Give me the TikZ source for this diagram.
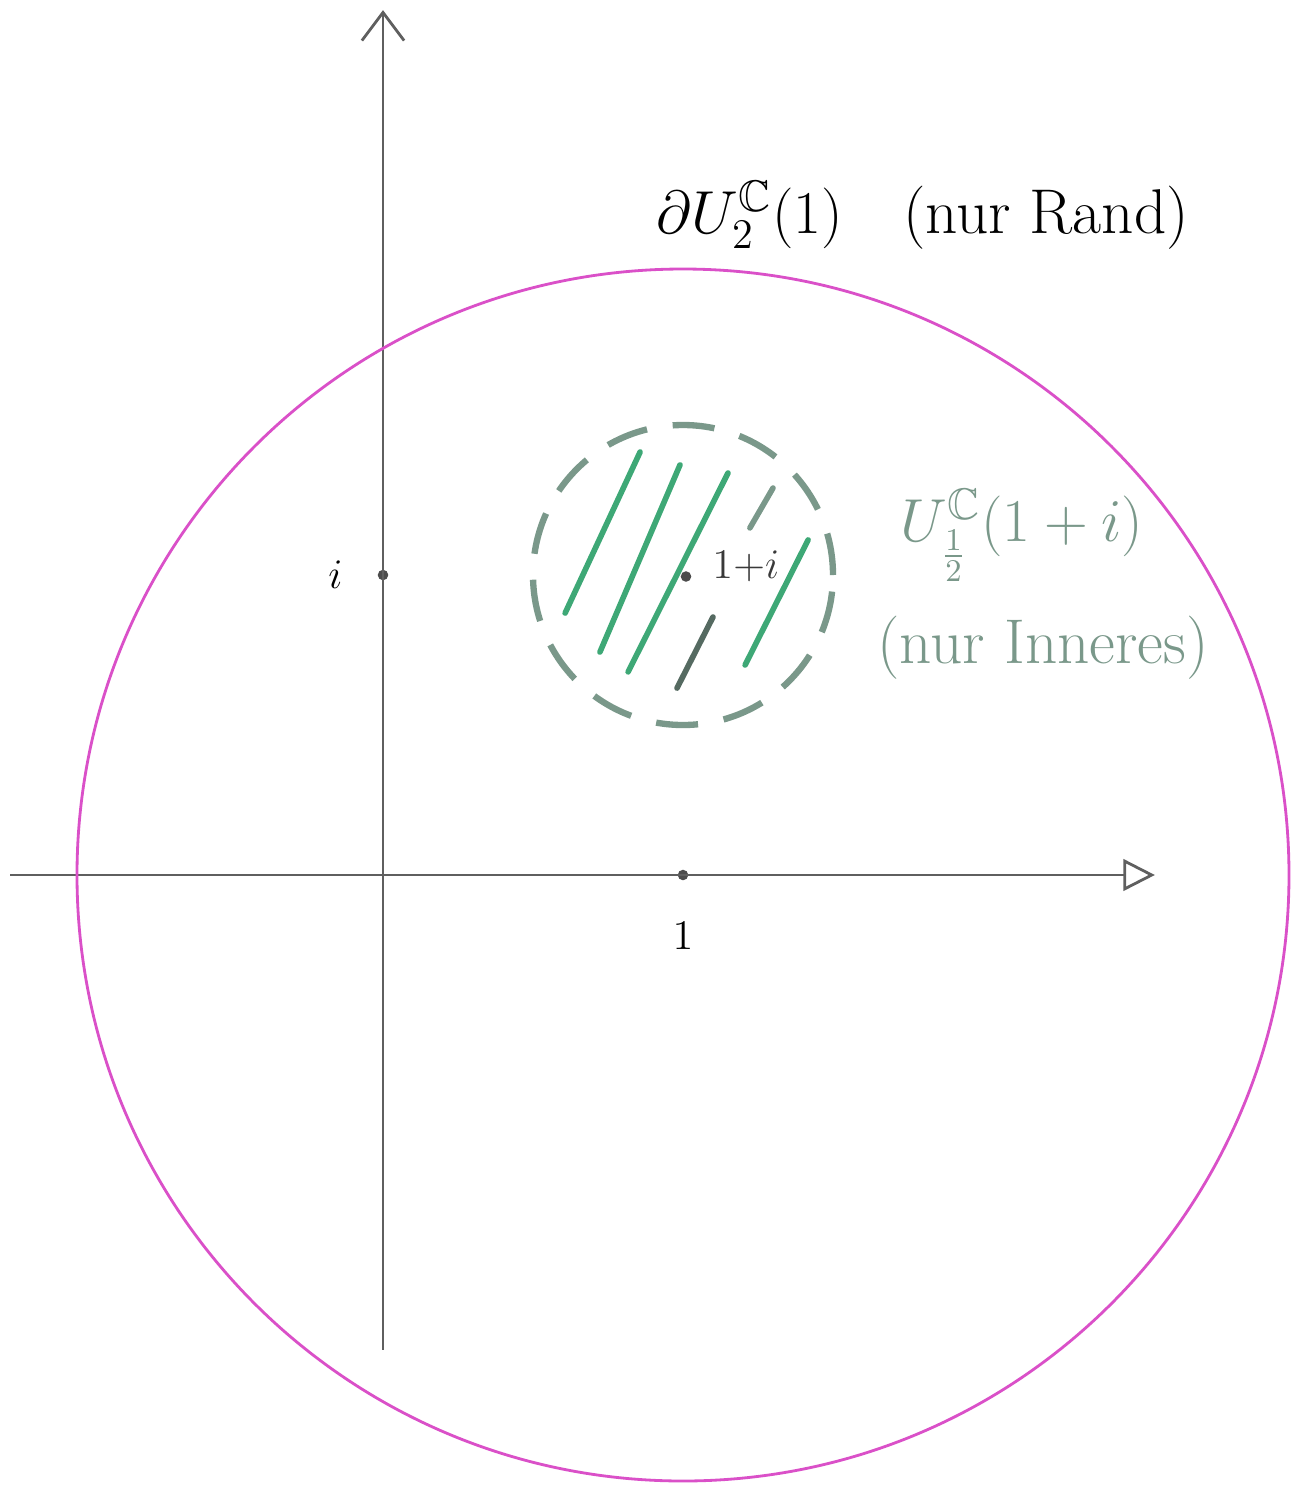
\documentclass[tikz,border=0pt]{standalone}
\usepackage{amsmath, amssymb}
\usetikzlibrary{arrows.meta}

\definecolor{randmag}{RGB}{218,80,200}
\definecolor{innengrau}{RGB}{122,152,138}
\definecolor{schraffur}{RGB}{62,168,118}
\definecolor{achse}{RGB}{95,95,95}

\tikzset{
  axis/.style={draw=achse, line width=0.8pt},
  punkt/.style={circle, fill=achse!80!black, inner sep=0pt, minimum size=3pt},
  rand/.style={draw=randmag, line width=0.8pt},
  innen/.style={draw=innengrau, line width=1.8pt, dash pattern=on 0.42cm off 0.26cm},
  hatchline/.style={draw=schraffur, line width=1.6pt, line cap=round},
  grosstext/.style={font=\fontsize{18}{22}\selectfont},
}

\begin{document}
\begin{tikzpicture}[x=3cm, y=3cm]
        \useasboundingbox (-1.2767,-2.0433) rectangle (3.08,2.9167);

        % Draw nodes
        \coordinate (O) at (0,0);
        \coordinate (xend) at (2.573,0);
        \coordinate (xstart) at (-1.243,0);
        \coordinate (yend) at (0,2.883);
        \coordinate (ystart) at (0,-1.583);
        \node[punkt] (eins) at (1,0) {};
        \node[punkt] (ii) at (0,1) {};
        \node[punkt] (einsi) at (1.01,0.995) {};

        % Draw connections
        \draw[axis, -{Triangle[open, length=9pt, width=9pt]}] (xstart) -- (xend);
        \draw[axis, -{Straight Barb[length=8pt, width=12pt]}] (ystart) -- (yend);

        % Circles
        \draw[rand] (eins) circle[radius=2.02];
        \draw[innen] (1,1) circle[radius=0.5];

        % Hatching
        \draw[hatchline] (0.607,0.873) -- (0.857,1.41);
        \draw[hatchline] (0.723,0.743) -- (0.99,1.367);
        \draw[hatchline] (0.817,0.677) -- (1.15,1.34);
        \draw[hatchline, draw=innengrau!70!black] (0.98,0.623) -- (1.1,0.86);
        \draw[hatchline] (1.207,0.7) -- (1.417,1.117);
        \draw[hatchline, draw=innengrau] (1.223,1.157) -- (1.3,1.29);

        % Labels
        \node[font=\large, left=8pt] (ilabel) at (ii) {$i$};
        \node[font=\large, below=10pt] (einslabel) at (eins) {$1$};
        \node[font=\large, right=4pt, yshift=3pt, text=achse!60!black] (einsilabel) at (einsi) {$1{+}i$};
        \node[grosstext, text=black] (randlabel) at (1.80,2.2)
            {$\partial U_2^{\mathbb{C}}(1)$\hspace{0.6cm}(nur Rand)};
        \node[grosstext, text=innengrau] (innenlabel) at (2.13,1.133)
            {$U_{\frac12}^{\mathbb{C}}(1+i)$};
        \node[grosstext, text=innengrau] (innenzusatz) at (2.2,0.757)
            {(nur Inneres)};
    \end{tikzpicture}
\end{document}
